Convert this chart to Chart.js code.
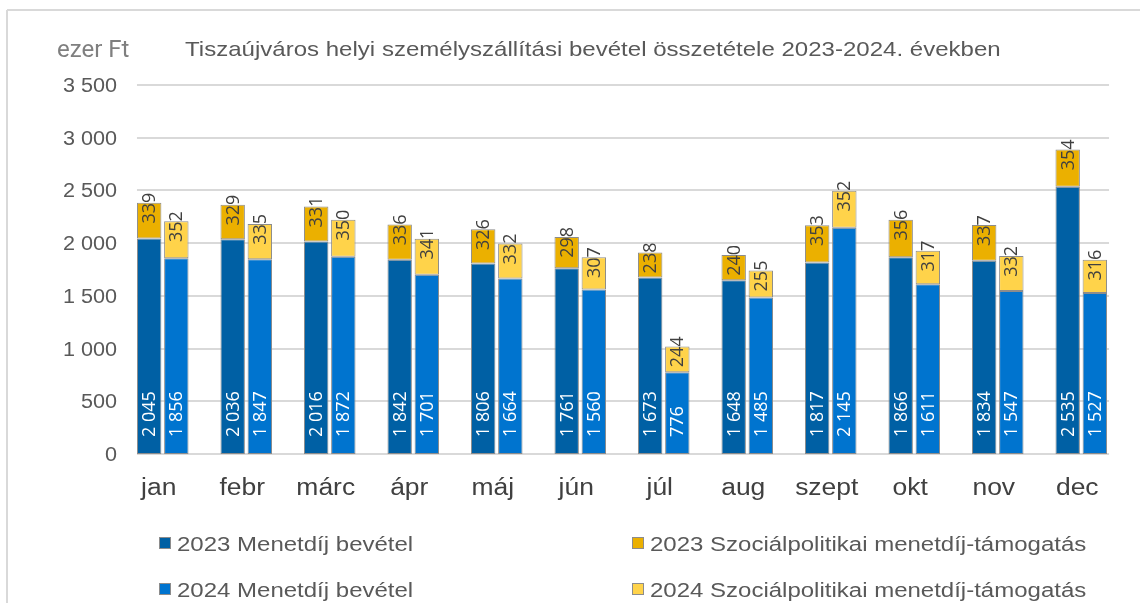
<!DOCTYPE html>
<html>
<head>
<meta charset="utf-8">
<script src="https://cdn.jsdelivr.net/npm/chart.js@4"></script>
<style>
	html, body { margin: 0; padding: 0; background: #fff; }
	#wrapper { width: 1140px; height: 603px; }
</style>
</head>
<body>
<div id="wrapper"><canvas id="bevetel-chart"></canvas></div>
<script>
const months = ["jan", "febr", "márc", "ápr", "máj", "jún", "júl", "aug", "szept", "okt", "nov", "dec"];

// ezer Ft
const fare2023 = [2045, 2036, 2016, 1842, 1806, 1761, 1673, 1648, 1817, 1866, 1834, 2535];
const support2023 = [339, 329, 331, 336, 326, 298, 238, 240, 353, 356, 337, 354];
const fare2024 = [1856, 1847, 1872, 1701, 1664, 1560, 776, 1485, 2145, 1611, 1547, 1527];
const support2024 = [352, 335, 350, 341, 332, 307, 244, 255, 352, 317, 332, 316];

const yTicks = [0, 500, 1000, 1500, 2000, 2500, 3000, 3500];

const titleText = "Tiszaújváros helyi személyszállítási bevétel összetétele 2023-2024. években";
const unitText = "ezer Ft";

const textColor = "#595959";
const gridColor = "#d9d9d9";

function fmt(v) {
	return String(v).replace(/\B(?=(\d{3})+(?!\d))/g, " ");
}

// text a bit wider than the font, like the original export
function wideText(ctx, text, x, y, sx) {
	ctx.save();
	ctx.translate(x, y);
	ctx.scale(sx, 1);
	ctx.fillText(text, 0, 0);
	ctx.restore();
}

// draws frame, titles, grid, tick labels, data labels and legend
const excelLook = {
	id: "excelLook",
	beforeDraw(chart) {
		const ctx = chart.ctx;
		ctx.save();
		ctx.fillStyle = "#fff";
		ctx.fillRect(0, 0, chart.width, chart.height);

		ctx.strokeStyle = gridColor;
		ctx.lineWidth = 2;
		ctx.beginPath();
		ctx.moveTo(7, 10);
		ctx.lineTo(chart.width, 10);
		ctx.moveTo(7, 10);
		ctx.lineTo(7, chart.height);
		ctx.stroke();

		ctx.fillStyle = "#7f7f7f";
		ctx.font = "24px Roboto";
		ctx.textBaseline = "alphabetic";
		ctx.fillText(unitText, 57, 57);

		ctx.fillStyle = textColor;
		ctx.font = "21px 'Liberation Sans', Arial";
		wideText(ctx, titleText, 185, 56, 1.145);
		ctx.restore();
	},
	beforeDatasetsDraw(chart) {
		const ctx = chart.ctx;
		const y = chart.scales.y;
		const x = chart.scales.x;
		const first = chart.getDatasetMeta(0).data[0];
		const last = chart.getDatasetMeta(chart.data.datasets.length - 1).data[months.length - 1];
		const left = first.x - first.width / 2;
		const right = last.x + last.width / 2 + 2;

		ctx.save();
		ctx.strokeStyle = gridColor;
		ctx.lineWidth = 2;
		ctx.fillStyle = textColor;
		ctx.font = "20px 'Liberation Sans', Arial";
		ctx.textAlign = "right";
		ctx.textBaseline = "middle";
		yTicks.forEach((t) => {
			const py = Math.round(y.getPixelForValue(t));
			ctx.beginPath();
			ctx.moveTo(left, py);
			ctx.lineTo(right, py);
			ctx.stroke();
			wideText(ctx, fmt(t), 117, py + 1, 1.08);
		});

		ctx.fillStyle = "#404040";
		ctx.font = "23px 'Liberation Sans', Arial";
		ctx.textAlign = "center";
		ctx.textBaseline = "alphabetic";
		months.forEach((m, i) => {
			wideText(ctx, m, x.getPixelForValue(i) - 4, 495, 1.15);
		});
		ctx.restore();
	},
	afterDatasetsDraw(chart) {
		const ctx = chart.ctx;
		ctx.save();
		ctx.font = "18px 'Open Sans'";
		ctx.textBaseline = "middle";
		chart.data.datasets.forEach((ds, di) => {
			const meta = chart.getDatasetMeta(di);
			meta.data.forEach((bar, i) => {
				ctx.save();
				if (ds.labelPos === "base") {
					ctx.translate(bar.x, bar.base - 17);
					ctx.rotate(-Math.PI / 2);
					ctx.textAlign = "left";
					ctx.fillStyle = "#fff";
				} else {
					ctx.translate(bar.x, bar.y - 10);
					ctx.rotate(-Math.PI / 2);
					ctx.textAlign = "right";
					ctx.fillStyle = "#404040";
				}
				ctx.fillText(fmt(ds.data[i]), 0, 1);
				ctx.restore();
			});
		});

		// legend, 2 columns x 2 rows
		const colX = [159, 632];
		const rowY = [543, 589];
		ctx.font = "20px 'Liberation Sans', Arial";
		ctx.textAlign = "left";
		ctx.textBaseline = "alphabetic";
		chart.data.datasets.forEach((ds, di) => {
			const bx = colX[di % 2];
			const by = rowY[Math.floor(di / 2)];
			ctx.fillStyle = ds.backgroundColor;
			ctx.fillRect(bx, by - 6, 12, 12);
			ctx.strokeStyle = "#8c8c8c";
			ctx.lineWidth = 1;
			ctx.strokeRect(bx + 0.5, by - 5.5, 11, 11);
			ctx.fillStyle = textColor;
			wideText(ctx, ds.label, bx + 18, by + 8, 1.2);
		});
		ctx.restore();
	},
};

const ctx = document.getElementById("bevetel-chart").getContext("2d");

new Chart(ctx, {
	type: "bar",
	data: {
		labels: months,
		datasets: [
			{
				label: "2023 Menetdíj bevétel",
				data: fare2023,
				backgroundColor: "#0060a4",
				stack: "2023",
				labelPos: "base",
			},
			{
				label: "2023 Szociálpolitikai menetdíj-támogatás",
				data: support2023,
				backgroundColor: "#ebb000",
				stack: "2023",
				labelPos: "end",
			},
			{
				label: "2024 Menetdíj bevétel",
				data: fare2024,
				backgroundColor: "#0074cf",
				stack: "2024",
				labelPos: "base",
			},
			{
				label: "2024 Szociálpolitikai menetdíj-támogatás",
				data: support2024,
				backgroundColor: "#ffd34a",
				stack: "2024",
				labelPos: "end",
			},
		],
	},
	options: {
		responsive: true,
		maintainAspectRatio: false,
		animation: false,
		layout: {
			padding: { left: 121, right: 17, top: 85, bottom: 149 },
		},
		datasets: {
			bar: {
				borderColor: "#8c8c8c",
				borderWidth: 1,
				borderSkipped: false,
				categoryPercentage: 0.65,
				barPercentage: 0.9,
			},
		},
		scales: {
			x: {
				display: false,
				stacked: true,
			},
			y: {
				display: false,
				stacked: true,
				min: 0,
				max: 3500,
			},
		},
		plugins: {
			legend: { display: false },
			title: { display: false },
			tooltip: { enabled: false },
		},
	},
	plugins: [excelLook],
});
</script>
</body>
</html>
